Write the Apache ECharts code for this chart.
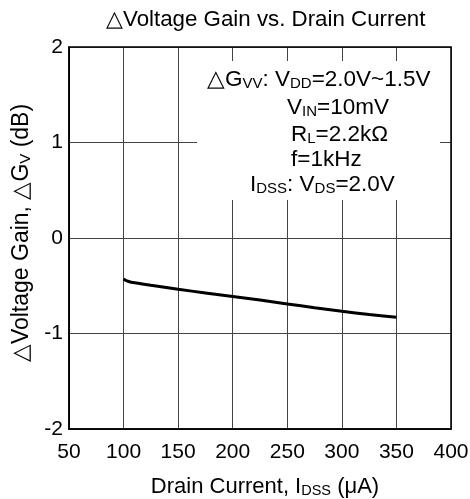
<!DOCTYPE html>
<html>
<head>
<meta charset="utf-8">
<script src="https://cdn.jsdelivr.net/npm/echarts@6/dist/echarts.min.js"></script>
<style>
  html, body { margin: 0; padding: 0; background: #fff; }
  #chart { width: 470px; height: 499px; }
</style>
</head>
<body>
<div id="chart"></div>
<script>
// Drain current I_DSS (µA) and resulting voltage gain change ΔG_V (dB)
const drainCurrent = [100, 103, 107, 112, 125, 150, 175, 200, 225, 250, 275, 300, 325, 350];
const gainDelta = [-0.43, -0.45, -0.463, -0.472, -0.495, -0.537, -0.575, -0.612, -0.65, -0.69, -0.73, -0.768, -0.80, -0.83];

const xTicks = [50, 100, 150, 200, 250, 300, 350, 400];
const yTicks = [-2, -1, 0, 1, 2];

const FONT = '"Liberation Sans", Arial, sans-serif';
const FS = 21;

const chart = echarts.init(document.getElementById('chart'), null, { renderer: 'canvas' });

const subStyle = (size) => ({ fontSize: size, fontFamily: FONT, color: '#000', verticalAlign: 'bottom', lineHeight: 12 });
const norm = { fontSize: 22.5, fontFamily: FONT, color: '#000', lineHeight: 24 };

function boxLine(text, x, y) {
  return {
    type: 'text',
    left: x, top: y,
    style: { text: text, rich: { n: norm, s: subStyle(15) }, fill: '#000' },
    z: 20
  };
}

chart.setOption({
  animation: false,
  backgroundColor: '#fff',
  title: {
    text: '△Voltage Gain vs. Drain Current',
    left: 101,
    top: 4,
    textStyle: { fontFamily: FONT, fontSize: 22.3, fontWeight: 'normal', color: '#000' }
  },
  grid: { left: 69, right: 19, top: 47, bottom: 70, containLabel: false, outerBoundsMode: 'none' },
  xAxis: {
    type: 'value',
    min: xTicks[0], max: xTicks[xTicks.length - 1], interval: 50,
    name: 'Drain Current, I{s|DSS} (μA)',
    nameLocation: 'middle', nameGap: 47,
    nameTextStyle: { fontFamily: FONT, fontSize: 22, color: '#000', padding: [0, 0, 0, 10], rich: { s: subStyle(14.5) } },
    axisLine: { show: true, onZero: false, lineStyle: { color: '#000', width: 1.5 } },
    axisTick: { show: false },
    axisLabel: { fontFamily: FONT, fontSize: FS, color: '#000', margin: 13 },
    splitLine: { show: true, lineStyle: { color: '#444', width: 1 } }
  },
  yAxis: {
    type: 'value',
    min: yTicks[0], max: yTicks[yTicks.length - 1], interval: 1,
    name: '△Voltage Gain, △G{s|V} (dB)',
    nameLocation: 'middle', nameGap: 33, nameRotate: 90,
    nameTextStyle: { fontFamily: FONT, fontSize: 23, color: '#000', padding: [0, 0, 0, 10], rich: { s: subStyle(15) } },
    axisLine: { show: true, onZero: false, lineStyle: { color: '#000', width: 1.5 } },
    axisTick: { show: false },
    axisLabel: { fontFamily: FONT, fontSize: FS, color: '#000', margin: 6 },
    splitLine: { show: true, lineStyle: { color: '#444', width: 1 } }
  },
  graphic: [
    // outer frame of the plot area
    { type: 'rect', shape: { x: 69, y: 47, width: 382, height: 382 }, style: { fill: 'none', stroke: '#000', lineWidth: 1.5 }, z: 5, silent: true },
    // white panel behind the measurement conditions
    { type: 'rect', shape: { x: 197, y: 61, width: 243, height: 139 }, style: { fill: '#fff' }, z: 10, silent: true },
    boxLine('{n|△G}{s|VV}{n|: V}{s|DD}{n|=2.0V~1.5V}', 207, 68),
    boxLine('{n|V}{s|IN}{n|=10mV}', 287, 96),
    boxLine('{n|R}{s|L}{n|=2.2kΩ}', 291, 123),
    boxLine('{n|f=1kHz}', 291, 148),
    boxLine('{n|I}{s|DSS}{n|: V}{s|DS}{n|=2.0V}', 250, 173)
  ],
  series: [{
    type: 'line',
    data: drainCurrent.map((x, i) => [x, gainDelta[i]]),
    smooth: 0.3,
    showSymbol: false,
    lineStyle: { color: '#000', width: 3 },
    z: 3
  }]
});
</script>
</body>
</html>
